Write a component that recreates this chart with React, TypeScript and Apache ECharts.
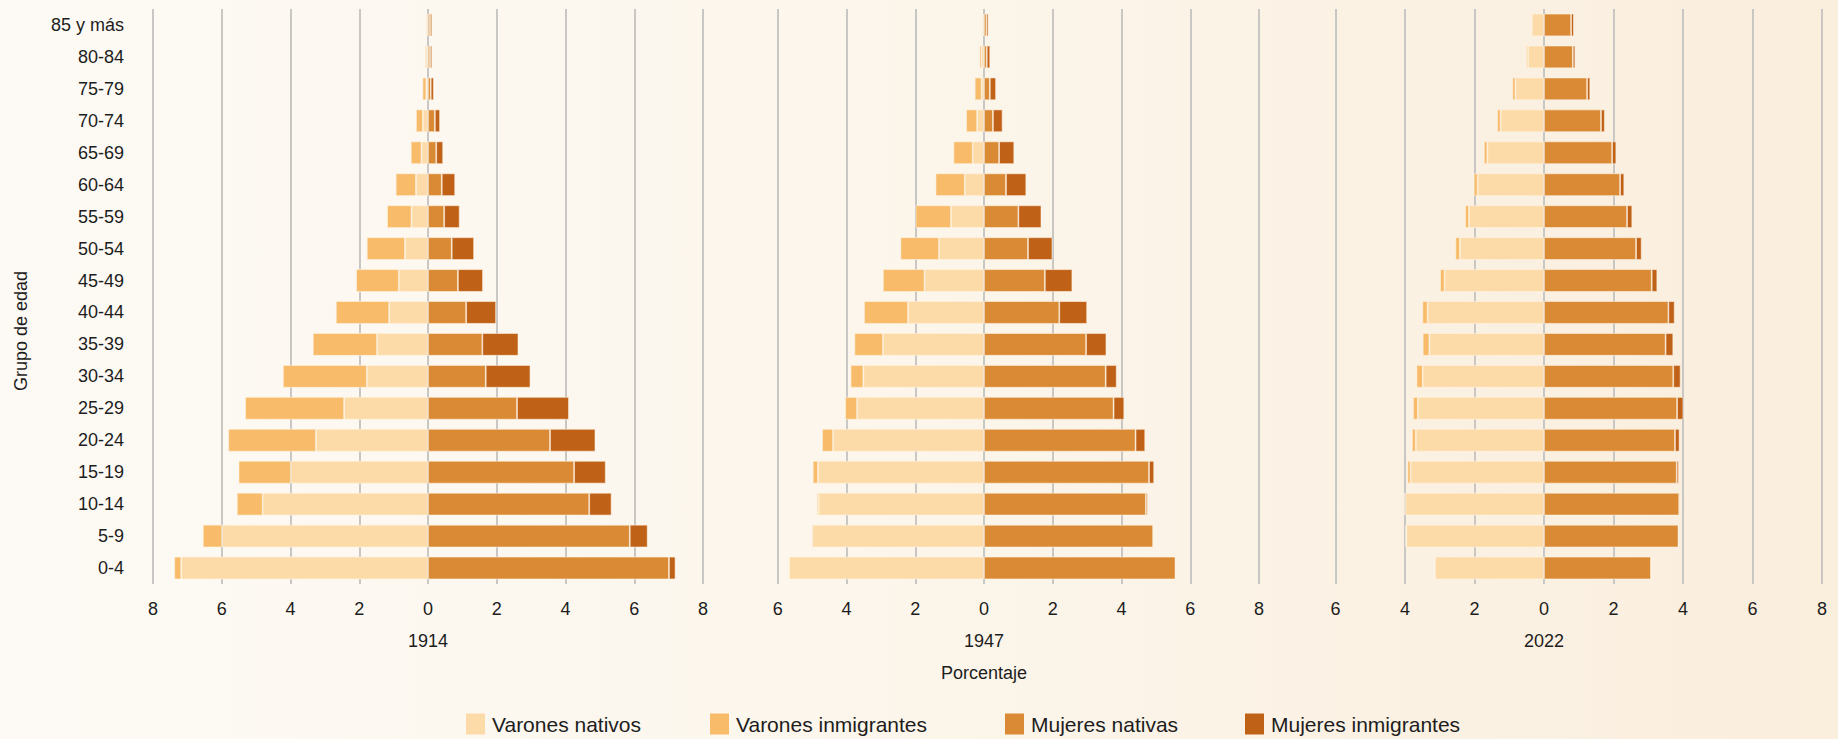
import React, { useEffect, useRef } from "react";
import * as echarts from "echarts";

const categories = ["0-4", "5-9", "10-14", "15-19", "20-24", "25-29", "30-34", "35-39", "40-44", "45-49", "50-54", "55-59", "60-64", "65-69", "70-74", "75-79", "80-84", "85 y más"];
const years = ["1914", "1947", "2022"];
const seriesNames = ["Varones nativos", "Varones inmigrantes", "Mujeres nativas", "Mujeres inmigrantes"];
const colors = ["#FDDBA8", "#F8BB69", "#DA8A34", "#C06118"];

// 1914
const varonesNativos1914 = [7.18, 5.99, 4.81, 3.99, 3.26, 2.44, 1.78, 1.48, 1.13, 0.85, 0.67, 0.48, 0.35, 0.19, 0.15, 0.05, 0.03, 0.02];
const varonesInmigrantes1914 = [0.2, 0.56, 0.75, 1.52, 2.55, 2.88, 2.44, 1.87, 1.55, 1.24, 1.11, 0.71, 0.59, 0.31, 0.2, 0.11, 0.05, 0.03];
const mujeresNativas1914 = [7.01, 5.87, 4.69, 4.25, 3.55, 2.59, 1.68, 1.58, 1.11, 0.87, 0.69, 0.47, 0.4, 0.24, 0.2, 0.08, 0.06, 0.06];
const mujeresInmigrantes1914 = [0.19, 0.52, 0.65, 0.92, 1.32, 1.51, 1.3, 1.05, 0.87, 0.73, 0.65, 0.45, 0.39, 0.2, 0.15, 0.09, 0.06, 0.06];
// 1947
const varonesNativos1947 = [5.67, 5.0, 4.81, 4.83, 4.39, 3.69, 3.51, 2.94, 2.21, 1.73, 1.31, 0.96, 0.56, 0.33, 0.2, 0.07, 0.07, 0.02];
const varonesInmigrantes1947 = [0.02, 0.02, 0.05, 0.15, 0.32, 0.35, 0.37, 0.83, 1.28, 1.21, 1.12, 1.03, 0.85, 0.56, 0.32, 0.2, 0.06, 0.03];
const mujeresNativas1947 = [5.57, 4.92, 4.71, 4.8, 4.41, 3.77, 3.54, 2.97, 2.19, 1.77, 1.28, 1.0, 0.64, 0.44, 0.26, 0.17, 0.08, 0.07];
const mujeresInmigrantes1947 = [0.02, 0.02, 0.05, 0.15, 0.28, 0.31, 0.32, 0.59, 0.81, 0.8, 0.71, 0.67, 0.59, 0.44, 0.28, 0.18, 0.1, 0.06];
// 2022
const varonesNativos2022 = [3.14, 3.96, 3.99, 3.84, 3.69, 3.63, 3.49, 3.3, 3.35, 2.86, 2.42, 2.16, 1.91, 1.63, 1.25, 0.82, 0.46, 0.35];
const varonesInmigrantes2022 = [0.02, 0.03, 0.03, 0.09, 0.11, 0.14, 0.18, 0.19, 0.15, 0.13, 0.13, 0.11, 0.11, 0.1, 0.1, 0.09, 0.05, 0.03];
const mujeresNativas2022 = [3.08, 3.87, 3.89, 3.82, 3.77, 3.83, 3.72, 3.5, 3.58, 3.1, 2.65, 2.39, 2.19, 1.96, 1.64, 1.24, 0.83, 0.78];
const mujeresInmigrantes2022 = [0.01, 0.02, 0.03, 0.06, 0.13, 0.18, 0.21, 0.22, 0.18, 0.16, 0.16, 0.15, 0.12, 0.12, 0.11, 0.09, 0.07, 0.08];

const panels = [
  [varonesNativos1914, varonesInmigrantes1914, mujeresNativas1914, mujeresInmigrantes1914],
  [varonesNativos1947, varonesInmigrantes1947, mujeresNativas1947, mujeresInmigrantes1947],
  [varonesNativos2022, varonesInmigrantes2022, mujeresNativas2022, mujeresInmigrantes2022],
];

const FONT = "'Liberation Sans', Arial, Helvetica, sans-serif";
const TEXT = "#1d1d1d";
const FS = 18;

export default function App() {
  const ref = useRef<HTMLDivElement>(null);
  useEffect(() => {
    document.body.style.margin = "0";
    if (!ref.current) return;
    const chart = echarts.init(ref.current, undefined, { renderer: "svg" });
    const gridDefs = [
      { left: 153, width: 550 },
      { left: 709, width: 550 },
      { left: 1266, width: 556 },
    ];
    const grids = gridDefs.map((g) => ({ left: g.left, width: g.width, top: 9, height: 575, containLabel: false }));
    const xAxes = gridDefs.map((_, i) => ({
      type: "value",
      gridIndex: i,
      min: -8,
      max: 8,
      interval: 2,
      name: years[i],
      nameLocation: "middle",
      nameGap: 48,
      nameTextStyle: { color: TEXT, fontSize: FS, fontFamily: FONT },
      axisLine: { show: false },
      axisTick: { show: false },
      axisLabel: {
        color: TEXT,
        fontSize: FS,
        fontFamily: FONT,
        margin: 16,
        showMinLabel: i === 0,
        formatter: (v: number) => String(Math.abs(v)),
      },
      splitLine: { show: true, showMinLine: i === 0, lineStyle: { color: "#c9c7c4", width: 2 } },
    }));
    const yAxes = gridDefs.map((_, i) => ({
      type: "category",
      gridIndex: i,
      data: categories,
      axisLine: { show: false },
      axisTick: { show: false },
      axisLabel: { show: i === 0, color: TEXT, fontSize: FS, fontFamily: FONT, margin: 29 },
      splitLine: { show: false },
    }));
    const series: any[] = [];
    panels.forEach((p, pi) => {
      p.forEach((arr, si) => {
        series.push({
          type: "bar",
          name: seriesNames[si],
          xAxisIndex: pi,
          yAxisIndex: pi,
          stack: "p" + pi,
          barCategoryGap: "29%",
          data: si < 2 ? arr.map((v) => -v) : arr,
          itemStyle: { color: colors[si], borderColor: "rgba(255,244,228,0.7)", borderWidth: 0.8 },
          emphasis: { disabled: true },
        });
      });
    });
    const legendLefts = [466, 710, 1005, 1245];
    const legends = seriesNames.map((n, i) => ({
      data: [{ name: n, itemStyle: { color: colors[i], borderWidth: 0 } }],
      left: legendLefts[i],
      top: 713,
      itemWidth: 19,
      itemHeight: 21,
      icon: "rect",
      padding: 0,
      textStyle: { color: TEXT, fontSize: 21, lineHeight: 22, fontFamily: FONT, padding: [0, 0, 0, 2] },
      selectedMode: false,
    }));
    chart.setOption({
      animation: false,
      backgroundColor: "transparent",
      textStyle: { fontFamily: FONT },
      grid: grids,
      xAxis: xAxes,
      yAxis: yAxes,
      series,
      legend: legends,
      graphic: [
        {
          type: "text",
          x: 21,
          y: 331,
          rotation: Math.PI / 2,
          style: { text: "Grupo de edad", fill: TEXT, font: `${FS}px ${FONT}`, align: "center", verticalAlign: "middle" },
        },
        {
          type: "text",
          x: 984,
          y: 673,
          style: { text: "Porcentaje", fill: TEXT, font: `${FS}px ${FONT}`, align: "center", verticalAlign: "middle" },
        },
      ],
    });
    return () => chart.dispose();
  }, []);
  return (
    <div
      ref={ref}
      style={{
        width: 1838,
        height: 739,
        background: "linear-gradient(90deg, #fdfaf5 0%, #fcf6ec 45%, #faeedd 100%)",
      }}
    />
  );
}
